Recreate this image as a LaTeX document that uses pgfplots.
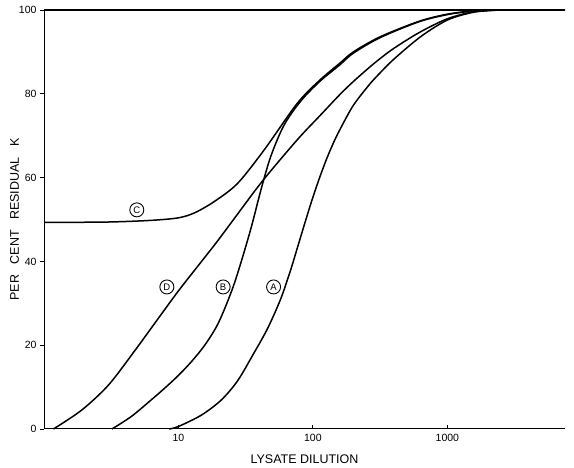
\documentclass[border=0pt]{standalone}
\usepackage{pgfplots}
\pgfplotsset{compat=1.18}
\usepackage{fontspec}
\setmainfont{Liberation Sans}
\begin{document}
\begin{tikzpicture}[x=1pt,y=1pt]
\path[use as bounding box] (0,0) rectangle (574,468);
\begin{axis}[
  at={(44pt,39pt)}, anchor=south west,
  scale only axis, width=521pt, height=419pt,
  xmode=log, xmin=1, xmax=7500, ymin=0, ymax=100,
  axis x line=bottom, axis y line=left,
  axis line style={-, line width=1pt},
  xtick={10,100,1000}, xticklabels={10,100,1000},
  xminorticks=false,
  ytick={0,20,40,60,80,100},
  major tick length=4pt,
  xtick align=inside, ytick align=outside,
  tick style={line width=0.9pt, black},
  tick label style={font=\fontsize{10.5}{12}\selectfont},
  xticklabel style={yshift=-2pt},
  /pgf/number format/assume math mode=true,
  xlabel={LYSATE DILUTION}, ylabel={PER\ \ \ CENT\ \ \ RESIDUAL\ \ \ K},
  label style={font=\fontsize{12.5}{14}\selectfont},
  xlabel style={yshift=-6pt},
  ylabel style={yshift=-7pt},
  clip=false,
]
\tikzset{cur/.style={black, line width=1.5pt, smooth, tension=0.5, no marks}}
% top line
\addplot[black, line width=1.3pt, sharp plot, no marks] coordinates {(1,100) (7500,100)};
% C
\addplot[cur] coordinates {(1,49.3) (3,49.4) (6.3,49.8) (10,50.4) (13.2,51.6) (18.5,54.3) (27.5,58.6) (43.4,66.6) (76.4,77.7) (112,83.2) (158.5,87.3) (200,90.0) (316,93.6) (616,97.3) (1000,99.0) (1585,99.8) (2512,100) (7500,100)};
% B
\addplot[cur] coordinates {(3.2,0) (4.47,3.0) (6.3,7.0) (7.94,9.8) (10,12.8) (12.59,16.2) (15.85,20.2) (19.95,25.5) (25.88,34.5) (33.88,46.8) (41.02,57.0) (48.53,65.0) (60.95,72.5) (80.91,78.2) (112,82.9) (158.5,86.9) (200,89.7) (316,93.4) (616,97.2) (1000,98.9) (1585,99.8) (2512,100)};
% D
\addplot[cur] coordinates {(1.175,0) (1.905,4.5) (3.02,10.5) (4.786,18.9) (7.5,27.5) (10.47,33.8) (18.62,44.0) (25.7,50.0) (42.2,59.2) (76.4,69.0) (112.2,74.7) (158.5,79.8) (199.5,82.9) (263,86.3) (316,88.4) (398.1,90.8) (616,94.6) (1000,97.9) (1585,99.6) (2512,100)};
% A
\addplot[cur] coordinates {(8.51,0) (10,0.6) (14.79,3.3) (20.8,6.9) (27.54,11.5) (36.39,18.1) (46.03,24.0) (57.54,31.0) (68.08,37.8) (76.91,43.4) (85.51,48.3) (94.41,52.8) (101.4,55.9) (112.2,60.0) (125.9,64.3) (141.3,68.1) (158.5,71.4) (199.5,77.2) (263,82.2) (316.2,85.0) (398.1,88.2) (631,93.6) (1000,97.6) (1585,99.5) (2512,100)};
\tikzset{lab/.style={circle, draw, line width=0.9pt, inner sep=0pt, minimum size=14pt, font=\fontsize{9.5}{10}\selectfont}}
\node[lab] at (axis cs:4.9,52.3) {C};
\node[lab] at (axis cs:8.2,33.9) {D};
\node[lab] at (axis cs:21.5,33.9) {B};
\node[lab] at (axis cs:51,33.9) {A};
\end{axis}
\end{tikzpicture}
\end{document}
